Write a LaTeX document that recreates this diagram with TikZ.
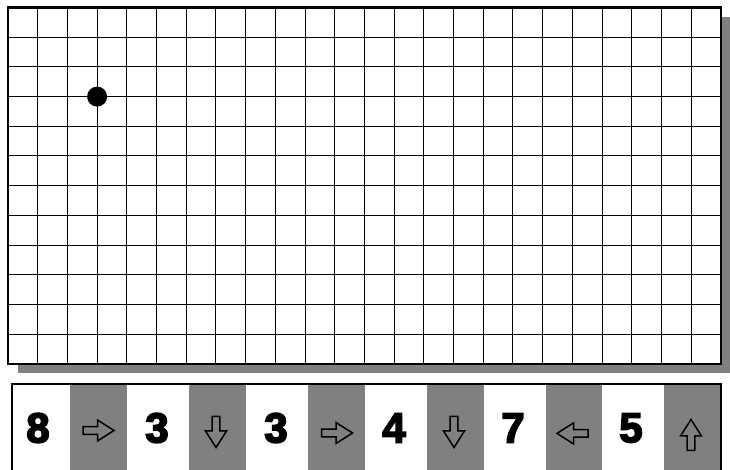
\documentclass[tikz,border=0pt]{standalone}
\usepackage{fontspec}
\newfontfamily\digitfont{Liberation Sans}[BoldFeatures={FakeBold=4}]
\definecolor{cellgray}{RGB}{128,128,128}
\tikzset{
  gridline/.style={draw=black, line width=1pt},
  gridframe/.style={draw=black, line width=2.4pt},
  shadowbox/.style={fill=cellgray, draw=none},
  barframe/.style={draw=black, line width=1.5pt},
  darkcell/.style={fill=cellgray, draw=none},
  digit/.style={font=\digitfont\bfseries\fontsize{42}{42}\selectfont, inner sep=0pt},
  marker/.style={circle, fill=black, draw=none, minimum size=20pt, inner sep=0pt},
  blockarrow/.pic={
    \draw[fill=cellgray, line width=1.5pt, line join=miter]
      (-15.5,-3.8) -- (-1,-3.8) -- (-1,-10.5) -- (15.5,0)
      -- (-1,10.5) -- (-1,3.8) -- (-15.5,3.8) -- cycle;
  }
}
\usetikzlibrary{positioning}
\begin{document}
\begin{tikzpicture}[x=1pt, y=1pt]
\useasboundingbox (0,0) rectangle (730,470);
% Grille
\fill[shadowbox] (17.5,96.6) rectangle (730.3,453);
\fill[white] (8,106.1) rectangle (720.8,462.5);
\draw[gridline, shift={(8,106.1)}, step=29.7pt] (0,0) grid (712.8,356.4);
\draw[gridframe] (8,106.1) rectangle (720.8,462.5);
% Pion
\node[marker] (pawn) at (97.1,373.4) {};
% Bandeau
\fill[white] (12,-5) rectangle (721,86);
\fill[darkcell] (70,-5) rectangle (127,86);
\fill[darkcell] (189,-5) rectangle (246,86);
\fill[darkcell] (308,-5) rectangle (365,86);
\fill[darkcell] (427,-5) rectangle (484,86);
\fill[darkcell] (546,-5) rectangle (602,86);
\fill[darkcell] (664,-5) rectangle (721,86);
\draw[barframe] (12,-5) -- (12,86) -- (721,86) -- (721,-5);
% Nombres
\node[digit] (num1) at (38,42)  {8};
\node[digit] (num2) at (157,42) {3};
\node[digit] (num3) at (276,42) {3};
\node[digit] (num4) at (394,42) {4};
\node[digit] (num5) at (513,42) {7};
\node[digit] (num6) at (631,42) {5};
% Directions
\pic (dir1) at (98.5,39.5) {blockarrow};
\pic[rotate=-90] (dir2) at (216,38) {blockarrow};
\pic (dir3) at (337,37) {blockarrow};
\pic[rotate=-90] (dir4) at (454,38) {blockarrow};
\pic[rotate=180] (dir5) at (572.5,36.6) {blockarrow};
\pic[rotate=90] (dir6) at (691,35) {blockarrow};
\end{tikzpicture}
\end{document}
